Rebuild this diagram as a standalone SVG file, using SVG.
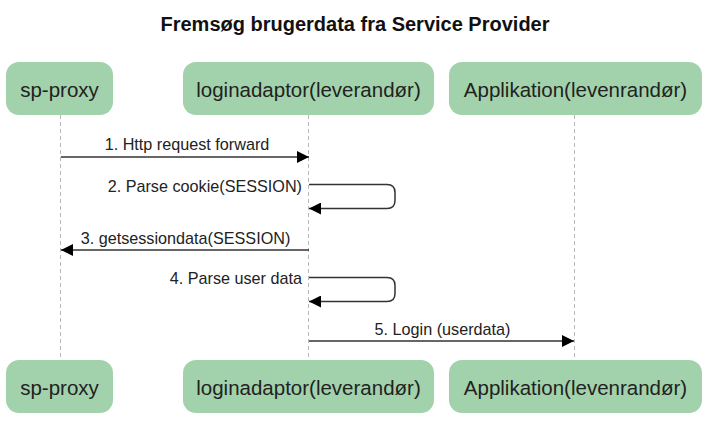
<svg xmlns="http://www.w3.org/2000/svg" width="717" height="424" viewBox="0 0 717 424">
<style>
  .box{fill:#a2d2ab;stroke:none}
  .lbl{font-family:"Liberation Sans",Arial,sans-serif;font-size:20.5px;fill:#222;text-anchor:middle;dominant-baseline:central}
  .title{font-family:"Liberation Sans",Arial,sans-serif;font-size:20px;font-weight:bold;fill:#111;text-anchor:middle}
  .msg{font-family:"Liberation Sans",Arial,sans-serif;font-size:16.2px;fill:#222}
  .life{stroke:#b8b8b8;stroke-width:1;stroke-dasharray:4,3;fill:none}
  .arr{stroke:#333;stroke-width:1.5;fill:none;marker-end:url(#ah)}
</style>
<defs>
  <marker id="ah" viewBox="0 0 12 12" markerWidth="12" markerHeight="12" refX="12" refY="6" orient="auto" markerUnits="userSpaceOnUse">
    <path d="M0,0 L12,6 L0,12 Z" fill="#000"/>
  </marker>
</defs>
<rect width="717" height="424" fill="#fff"/>
<text class="title" x="355" y="31">Fremsøg brugerdata fra Service Provider</text>

<g id="lifelines">
  <line class="life" x1="60.5" y1="115" x2="60.5" y2="360"/>
  <line class="life" x1="308.5" y1="115" x2="308.5" y2="360"/>
  <line class="life" x1="574.5" y1="115" x2="574.5" y2="360"/>
</g>

<g id="sp-proxy-top"><rect class="box" x="6" y="62" width="107" height="53" rx="13"/><text class="lbl" x="59.5" y="89">sp-proxy</text></g>
<g id="loginadaptor-top"><rect class="box" x="183" y="62" width="251" height="53" rx="13"/><text class="lbl" x="308.5" y="89">loginadaptor(leverandør)</text></g>
<g id="applikation-top"><rect class="box" x="449" y="62" width="253" height="53" rx="13"/><text class="lbl" x="575.5" y="89">Applikation(levenrandør)</text></g>

<g id="sp-proxy-bottom"><rect class="box" x="6" y="360" width="107" height="53" rx="13"/><text class="lbl" x="59.5" y="387">sp-proxy</text></g>
<g id="loginadaptor-bottom"><rect class="box" x="183" y="360" width="251" height="53" rx="13"/><text class="lbl" x="308.5" y="387">loginadaptor(leverandør)</text></g>
<g id="applikation-bottom"><rect class="box" x="449" y="360" width="253" height="53" rx="13"/><text class="lbl" x="575.5" y="387">Applikation(levenrandør)</text></g>

<g id="connectors">
  <line class="arr" x1="61" y1="157" x2="309" y2="157"/>
  <text class="msg" x="187" y="150" text-anchor="middle">1. Http request forward</text>

  <path class="arr" d="M309,184.5 H387 Q395,184.5 395,192.5 V200.5 Q395,208.5 387,208.5 H309"/>
  <text class="msg" x="302" y="192" text-anchor="end">2. Parse cookie(SESSION)</text>

  <line class="arr" x1="309" y1="250" x2="61" y2="250"/>
  <text class="msg" x="185.5" y="244" text-anchor="middle">3. getsessiondata(SESSION)</text>

  <path class="arr" d="M309,277.5 H387 Q395,277.5 395,285.5 V293.5 Q395,301.5 387,301.5 H309"/>
  <text class="msg" x="302" y="284" text-anchor="end">4. Parse user data</text>

  <line class="arr" x1="309" y1="341" x2="574" y2="341"/>
  <text class="msg" x="442.5" y="335" text-anchor="middle">5. Login (userdata)</text>
</g>
</svg>
